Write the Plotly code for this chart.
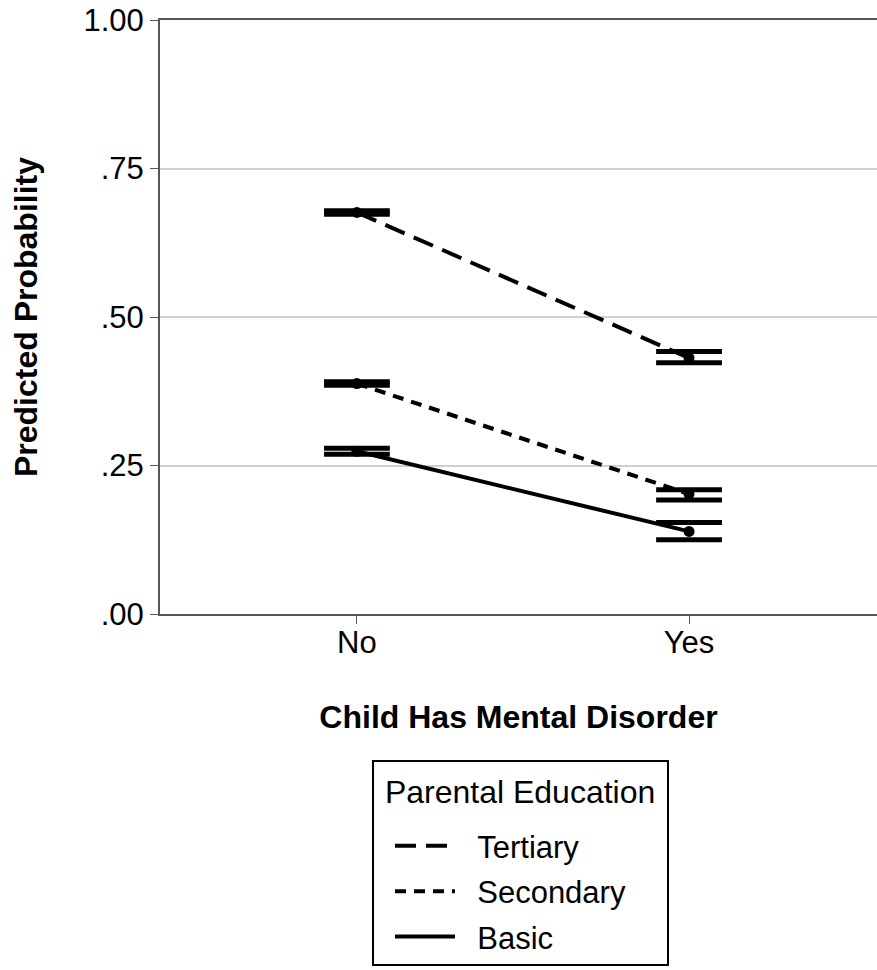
import plotly.graph_objects as go

categories = ["No", "Yes"]
groups = ["Tertiary", "Secondary", "Basic"]
tertiary_est = [0.676, 0.431]
tertiary_lo = [0.673, 0.423]
tertiary_hi = [0.679, 0.442]
secondary_est = [0.388, 0.202]
secondary_lo = [0.385, 0.192]
secondary_hi = [0.391, 0.209]
basic_est = [0.274, 0.139]
basic_lo = [0.269, 0.125]
basic_hi = [0.279, 0.154]
y_tickvals = [0, 0.25, 0.5, 0.75, 1.0]
y_ticktext = [".00", ".25", ".50", ".75", "1.00"]

FONT = "Liberation Sans, Arial, sans-serif"
NB = "\u00a0"
dashes = {"Tertiary": "21px,10px", "Secondary": "11px,8px", "Basic": "solid"}
series = {
    "Tertiary": (tertiary_est, tertiary_lo, tertiary_hi),
    "Secondary": (secondary_est, secondary_lo, secondary_hi),
    "Basic": (basic_est, basic_lo, basic_hi),
}
xpos = list(range(len(categories)))

fig = go.Figure()
for g in groups:
    est, lo, hi = series[g]
    fig.add_trace(go.Scatter(
        x=xpos, y=est, mode="lines+markers", showlegend=False,
        line=dict(color="black", width=4, dash=dashes[g]),
        marker=dict(color="black", size=11)))
    fig.add_trace(go.Scatter(
        x=xpos + xpos, y=lo + hi, mode="markers", showlegend=False,
        marker=dict(symbol="line-ew", size=47, color="black",
                    line=dict(color="black", width=5))))
for g in groups:
    fig.add_trace(go.Scatter(
        x=[None], y=[None], mode="lines", name=NB * 2 + g, legendgroup=g,
        line=dict(color="black", width=4, dash=dashes[g])))

fig.update_layout(
    width=877, height=970,
    margin=dict(l=160, r=0, t=20, b=356),
    plot_bgcolor="white", paper_bgcolor="white",
    font=dict(family=FONT, size=32, color="black"),
    xaxis=dict(
        range=[-0.593, 1.566], tickvals=xpos, ticktext=categories,
        showgrid=False, zeroline=False, automargin=False,
        showline=True, linecolor="#555555", linewidth=2, mirror=True,
        ticks="outside", ticklen=8, tickcolor="#555555", tickwidth=1,
        tickfont=dict(size=31), ticklabelstandoff=-8,
        title=dict(text="<b>Child Has Mental Disorder</b>", font=dict(size=32), standoff=46),
    ),
    yaxis=dict(
        range=[0, 1], tickvals=y_tickvals, ticktext=y_ticktext,
        showgrid=True, gridcolor="#d0d0d0", gridwidth=2, zeroline=False, automargin=False,
        showline=True, linecolor="#555555", linewidth=2,
        ticks="outside", ticklen=8, tickcolor="#555555", tickwidth=1,
        tickfont=dict(size=31), ticklabeloverflow="allow",
        title=dict(text="<b>Predicted Probability</b>", font=dict(size=32), standoff=36),
    ),
    legend=dict(
        x=(372 - 160) / 717, y=(614 - 760) / 594, xanchor="left", yanchor="top",
        bordercolor="black", borderwidth=2, bgcolor="white",
        itemwidth=60, indentation=16, tracegroupgap=2,
        title=dict(text="<span style='font-size:32px;baseline-shift:16px'>" + NB
                   + "Parental Education" + NB + "</span>",
                   font=dict(size=44)),
        font=dict(size=31),
    ),
)

fig.write_html("out.html", config={"displayModeBar": False},
               post_script="document.body.style.margin='0px';")
